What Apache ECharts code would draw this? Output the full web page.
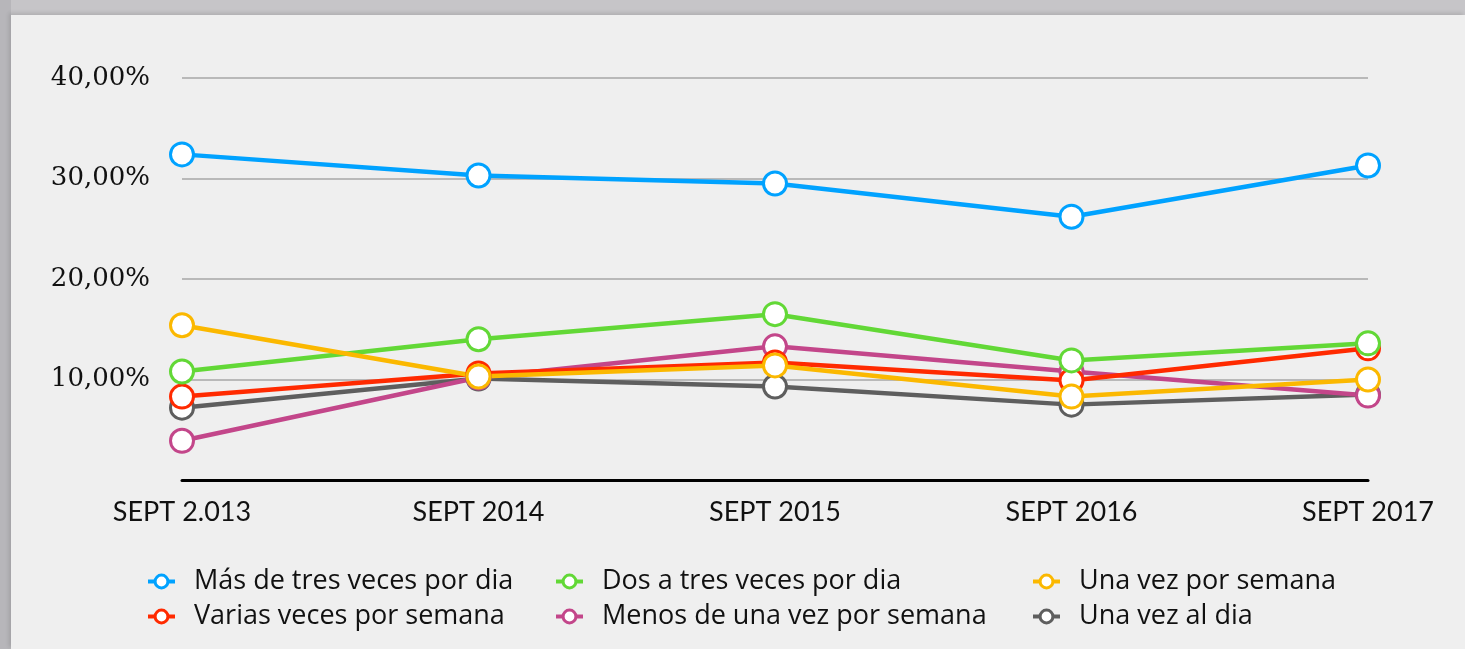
<!DOCTYPE html>
<html>
<head>
<meta charset="utf-8">
<script src="https://cdn.jsdelivr.net/npm/echarts@6/dist/echarts.min.js"></script>
<style>
  html, body { margin: 0; padding: 0; width: 1465px; height: 649px; overflow: hidden; background: #c6c5c8; }
  #frame { position: absolute; left: 0; top: 0; width: 11px; height: 649px; background: #b7b6ba; }
  #chart { position: absolute; left: 11px; top: 15px; width: 1454px; height: 634px; background: #efefef;
           box-shadow: -2px -2px 4px rgba(0,0,0,0.12); }
</style>
</head>
<body>
<div id="frame"></div>
<div id="chart"></div>
<script>
  // categorias del eje x
  const years = ['SEPT 2.013', 'SEPT 2014', 'SEPT 2015', 'SEPT 2016', 'SEPT 2017'];
  const yTicks = [0, 10, 20, 30, 40];

  // valores en %
  const masDeTres = [32.4, 30.3, 29.5, 26.2, 31.3];
  const dosATres = [10.8, 14.0, 16.5, 11.9, 13.6];
  const unaVezSemana = [15.4, 10.3, 11.4, 8.3, 10.0];
  const variasVeces = [8.3, 10.6, 11.7, 9.9, 13.1];
  const menosDeUna = [3.9, 10.2, 13.3, 10.8, 8.4];
  const unaVezDia = [7.2, 10.1, 9.3, 7.5, 8.5];

  function serie(name, data, color) {
    return {
      name: name,
      type: 'line',
      data: data,
      symbol: 'circle',
      symbolSize: 23,
      showAllSymbol: true,
      lineStyle: { color: color, width: 4.5 },
      itemStyle: { color: '#fff', borderColor: color, borderWidth: 3 },
      emphasis: { disabled: true },
      animation: false
    };
  }

  function leyenda(left, names) {
    return {
      orient: 'vertical',
      left: left,
      top: 552,
      padding: 0,
      itemWidth: 27,
      itemHeight: 16,
      itemGap: 6,
      selectedMode: false,
      data: names,
      lineStyle: { width: 4 },
      itemStyle: { borderWidth: 3 },
      textStyle: { fontFamily: 'Open Sans', fontSize: 27, color: '#111', lineHeight: 29, padding: [0, 0, 0, 14] }
    };
  }

  let myChart = echarts.init(document.getElementById('chart'));
  myChart.setOption({
    animation: false,
    grid: { left: 171, right: 97, top: 63, bottom: 169, containLabel: false },
    legend: [
      leyenda(135, ['Más de tres veces por dia', 'Varias veces por semana']),
      leyenda(543, ['Dos a tres veces por dia', 'Menos de una vez por semana']),
      leyenda(1020, ['Una vez por semana', 'Una vez al dia'])
    ],
    xAxis: {
      type: 'category',
      boundaryGap: false,
      data: years,
      axisLine: { show: true, lineStyle: { color: '#000', width: 3 } },
      axisTick: { show: false },
      splitLine: { show: false },
      axisLabel: { fontFamily: 'Lato', fontSize: 27, color: '#111', margin: 19, interval: 0 }
    },
    yAxis: {
      type: 'value',
      min: yTicks[0],
      max: yTicks[yTicks.length - 1],
      interval: 10,
      axisLine: { show: false },
      axisTick: { show: false },
      splitLine: { show: true, lineStyle: { color: '#b9b9b9', width: 2 } },
      axisLabel: {
        showMinLabel: false,
        fontFamily: 'DejaVu Serif',
        fontSize: 26,
        color: '#111',
        margin: 32,
        formatter: v => v.toFixed(2).replace('.', ',') + '%'
      }
    },
    series: [
      serie('Una vez al dia', unaVezDia, '#5e5e5e'),
      serie('Menos de una vez por semana', menosDeUna, '#c3468a'),
      serie('Varias veces por semana', variasVeces, '#ff2a00'),
      serie('Dos a tres veces por dia', dosATres, '#62d836'),
      serie('Una vez por semana', unaVezSemana, '#fbb800'),
      serie('Más de tres veces por dia', masDeTres, '#00a2ff')
    ]
  });
</script>
</body>
</html>
